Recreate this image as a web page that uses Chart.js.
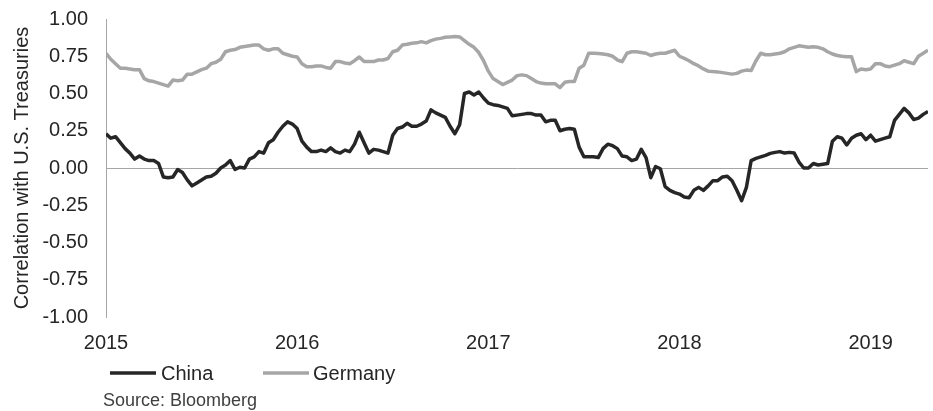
<!DOCTYPE html>
<html>
<head>
<meta charset="utf-8">
<script src="https://cdn.jsdelivr.net/npm/chart.js@4/dist/chart.umd.min.js"></script>
<style>
    body { margin: 0; background: #fff; }
    #wrap { width: 933px; height: 411px; }
</style>
</head>
<body>
<div id="wrap"><canvas id="chart-correlation" width="933" height="411"></canvas></div>
<script>
// decimal years, ~9 days apart
const dates = [
    2015.000, 2015.025, 2015.050, 2015.075, 2015.100, 2015.125, 2015.150, 2015.175, 2015.200, 2015.225,
    2015.250, 2015.275, 2015.300, 2015.325, 2015.350, 2015.375, 2015.400, 2015.425, 2015.450, 2015.475,
    2015.500, 2015.525, 2015.550, 2015.575, 2015.600, 2015.625, 2015.650, 2015.675, 2015.700, 2015.725,
    2015.750, 2015.775, 2015.800, 2015.825, 2015.850, 2015.875, 2015.900, 2015.925, 2015.950, 2015.975,
    2016.000, 2016.025, 2016.050, 2016.075, 2016.100, 2016.125, 2016.150, 2016.175, 2016.200, 2016.225,
    2016.250, 2016.275, 2016.300, 2016.325, 2016.350, 2016.375, 2016.400, 2016.425, 2016.450, 2016.475,
    2016.500, 2016.525, 2016.550, 2016.575, 2016.600, 2016.625, 2016.650, 2016.675, 2016.700, 2016.725,
    2016.750, 2016.775, 2016.800, 2016.825, 2016.850, 2016.875, 2016.900, 2016.925, 2016.950, 2016.975,
    2017.000, 2017.025, 2017.050, 2017.075, 2017.100, 2017.125, 2017.150, 2017.175, 2017.200, 2017.225,
    2017.250, 2017.275, 2017.300, 2017.325, 2017.350, 2017.375, 2017.400, 2017.425, 2017.450, 2017.475,
    2017.500, 2017.525, 2017.550, 2017.575, 2017.600, 2017.625, 2017.650, 2017.675, 2017.700, 2017.725,
    2017.750, 2017.775, 2017.800, 2017.825, 2017.850, 2017.875, 2017.900, 2017.925, 2017.950, 2017.975,
    2018.000, 2018.025, 2018.050, 2018.075, 2018.100, 2018.125, 2018.150, 2018.175, 2018.200, 2018.225,
    2018.250, 2018.275, 2018.300, 2018.325, 2018.350, 2018.375, 2018.400, 2018.425, 2018.450, 2018.475,
    2018.500, 2018.525, 2018.550, 2018.575, 2018.600, 2018.625, 2018.650, 2018.675, 2018.700, 2018.725,
    2018.750, 2018.775, 2018.800, 2018.825, 2018.850, 2018.875, 2018.900, 2018.925, 2018.950, 2018.975,
    2019.000, 2019.025, 2019.050, 2019.075, 2019.100, 2019.125, 2019.150, 2019.175, 2019.200, 2019.225,
    2019.250, 2019.275, 2019.300
];

const china = [
    0.23, 0.20, 0.21, 0.17, 0.13, 0.10, 0.06, 0.08, 0.06, 0.05,
    0.05, 0.03, -0.06, -0.065, -0.06, -0.01, -0.03, -0.08, -0.12, -0.10,
    -0.08, -0.06, -0.055, -0.035, 0.00, 0.02, 0.05, -0.01, 0.005, 0.00,
    0.06, 0.075, 0.11, 0.10, 0.17, 0.19, 0.24, 0.28, 0.31, 0.295,
    0.265, 0.18, 0.14, 0.11, 0.11, 0.12, 0.11, 0.135, 0.11, 0.10,
    0.12, 0.11, 0.16, 0.24, 0.17, 0.10, 0.125, 0.12, 0.11, 0.10,
    0.22, 0.265, 0.275, 0.30, 0.28, 0.28, 0.295, 0.315, 0.39, 0.37,
    0.355, 0.34, 0.28, 0.23, 0.29, 0.50, 0.51, 0.49, 0.51, 0.47,
    0.435, 0.425, 0.42, 0.41, 0.40, 0.35, 0.355, 0.36, 0.365, 0.365,
    0.355, 0.355, 0.31, 0.32, 0.32, 0.25, 0.26, 0.265, 0.26, 0.14,
    0.075, 0.075, 0.075, 0.07, 0.13, 0.16, 0.15, 0.13, 0.08, 0.075,
    0.05, 0.06, 0.125, 0.07, -0.065, 0.01, -0.005, -0.125, -0.15, -0.165,
    -0.175, -0.195, -0.20, -0.15, -0.13, -0.15, -0.12, -0.085, -0.085, -0.06,
    -0.055, -0.085, -0.15, -0.22, -0.13, 0.05, 0.065, 0.075, 0.085, 0.098,
    0.105, 0.11, 0.10, 0.105, 0.10, 0.04, 0.00, 0.00, 0.03, 0.02,
    0.025, 0.03, 0.18, 0.21, 0.20, 0.155, 0.20, 0.22, 0.23, 0.19,
    0.22, 0.18, 0.19, 0.20, 0.21, 0.32, 0.36, 0.40, 0.37, 0.325,
    0.335, 0.36, 0.38
];

const germany = [
    0.77, 0.73, 0.70, 0.67, 0.67, 0.665, 0.66, 0.66, 0.60, 0.585,
    0.58, 0.57, 0.56, 0.55, 0.59, 0.585, 0.59, 0.63, 0.63, 0.645,
    0.66, 0.67, 0.70, 0.71, 0.73, 0.78, 0.79, 0.795, 0.81, 0.815,
    0.82, 0.825, 0.825, 0.80, 0.79, 0.80, 0.80, 0.77, 0.76, 0.75,
    0.745, 0.70, 0.68, 0.68, 0.685, 0.685, 0.675, 0.67, 0.714, 0.714,
    0.705, 0.70, 0.72, 0.745, 0.714, 0.714, 0.714, 0.725, 0.725, 0.735,
    0.78, 0.79, 0.825, 0.83, 0.837, 0.84, 0.848, 0.84, 0.855, 0.865,
    0.87, 0.877, 0.88, 0.882, 0.88, 0.855, 0.83, 0.81, 0.775, 0.72,
    0.65, 0.60, 0.58, 0.56, 0.575, 0.59, 0.62, 0.625, 0.62, 0.60,
    0.58, 0.57, 0.565, 0.565, 0.565, 0.54, 0.575, 0.58, 0.58, 0.67,
    0.69, 0.77, 0.77, 0.768, 0.765, 0.76, 0.75, 0.725, 0.714, 0.77,
    0.78, 0.78, 0.775, 0.77, 0.755, 0.765, 0.77, 0.77, 0.78, 0.79,
    0.75, 0.736, 0.72, 0.70, 0.685, 0.665, 0.65, 0.647, 0.645, 0.64,
    0.635, 0.63, 0.635, 0.65, 0.657, 0.655, 0.72, 0.77, 0.76, 0.76,
    0.765, 0.77, 0.78, 0.80, 0.81, 0.82, 0.815, 0.81, 0.813, 0.81,
    0.80, 0.78, 0.765, 0.755, 0.75, 0.747, 0.747, 0.647, 0.665, 0.66,
    0.665, 0.70, 0.70, 0.685, 0.68, 0.69, 0.70, 0.72, 0.71, 0.70,
    0.75, 0.77, 0.79
];

const yearTicks = [2015, 2016, 2017, 2018, 2019];
const seriesNames = ['China', 'Germany'];
const sourceNote = 'Source: Bloomberg';
const yTitle = 'Correlation with U.S. Treasuries';

document.addEventListener('DOMContentLoaded', function() {
    const FONT = "'Liberation Sans', Arial, sans-serif";
    const TEXT = '#262626';
    const AXIS = '#a6a6a6';
    const colors = ['#262626', '#a6a6a6'];

    function toPoints(values) {
        return values.map((v, i) => ({ x: dates[i], y: v }));
    }

    // legend row and source line under the axis
    const footerPlugin = {
        id: 'footer',
        afterDraw(chart) {
            const ctx = chart.ctx;
            ctx.save();
            ctx.font = '20px ' + FONT;
            ctx.textBaseline = 'middle';
            const items = [
                { x1: 110, x2: 156, tx: 161 },
                { x1: 263, x2: 309, tx: 313 }
            ];
            items.forEach((it, i) => {
                ctx.strokeStyle = colors[i];
                ctx.lineWidth = 3.5;
                ctx.beginPath();
                ctx.moveTo(it.x1, 373);
                ctx.lineTo(it.x2, 373);
                ctx.stroke();
                ctx.fillStyle = TEXT;
                ctx.fillText(seriesNames[i], it.tx, 374);
            });
            ctx.font = '18px ' + FONT;
            ctx.fillStyle = '#404040';
            ctx.fillText(sourceNote, 103, 401);
            ctx.restore();
        }
    };

    function renderChart() {
        const ctx = document.getElementById('chart-correlation').getContext('2d');
        new Chart(ctx, {
            type: 'line',
            data: {
                datasets: [
                    { label: seriesNames[0], data: toPoints(china), borderColor: colors[0], borderWidth: 3.5 },
                    { label: seriesNames[1], data: toPoints(germany), borderColor: colors[1], borderWidth: 3.5 }
                ]
            },
            options: {
                responsive: false,
                animation: false,
                devicePixelRatio: 1,
                elements: { point: { radius: 0 }, line: { tension: 0, borderJoinStyle: 'round' } },
                layout: { padding: { top: 19, right: 5, bottom: 0, left: 0 } },
                plugins: {
                    legend: { display: false },
                    tooltip: { enabled: false }
                },
                scales: {
                    x: {
                        type: 'linear',
                        min: 2015,
                        max: 2019.3,
                        grid: { display: false },
                        border: { display: false },
                        afterBuildTicks: s => { s.ticks = yearTicks.map(v => ({ value: v })); },
                        afterFit: s => { s.height = 94; s.paddingLeft = 0; s.paddingRight = 0; },
                        ticks: {
                            padding: 6,
                            maxRotation: 0,
                            autoSkip: false,
                            color: TEXT,
                            font: { family: FONT, size: 20 },
                            callback: v => String(v)
                        }
                    },
                    y: {
                        min: -1,
                        max: 1,
                        afterFit: s => { s.width = 106; s.paddingTop = 0; s.paddingBottom = 0; },
                        grid: {
                            drawTicks: false,
                            color: c => (c.tick && c.tick.value === 0 ? AXIS : 'rgba(0,0,0,0)'),
                            lineWidth: 1
                        },
                        border: { display: true, color: AXIS, width: 1 },
                        ticks: {
                            stepSize: 0.25,
                            padding: 18,
                            color: TEXT,
                            font: { family: FONT, size: 20 },
                            callback: v => v.toFixed(2)
                        },
                        title: {
                            display: true,
                            text: yTitle,
                            color: TEXT,
                            font: { family: FONT, size: 20 },
                            padding: { top: 10, bottom: 0 }
                        }
                    }
                }
            },
            plugins: [footerPlugin]
        });
    }

    renderChart();
});
</script>
</body>
</html>
